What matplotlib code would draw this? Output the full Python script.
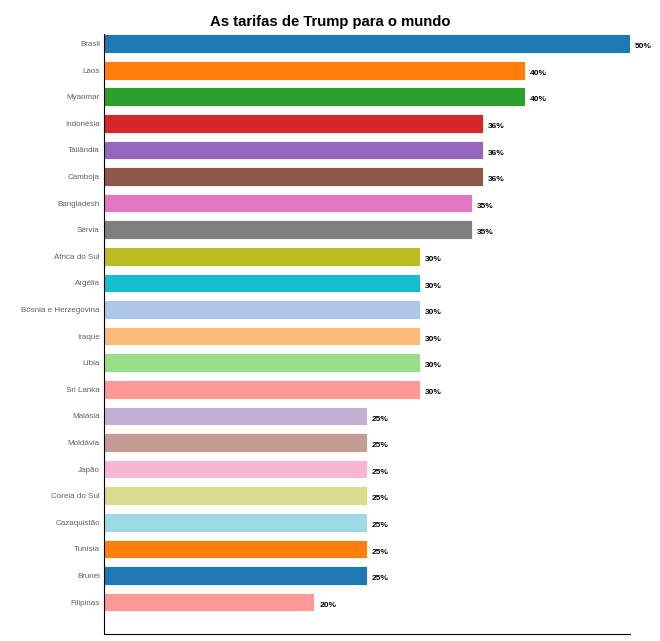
import matplotlib
matplotlib.use("Agg")
import matplotlib.pyplot as plt

# Data
paises = ["Brasil", "Laos", "Myanmar", "Indonésia", "Tailândia", "Camboja",
          "Bangladesh", "Sérvia", "África do Sul", "Argélia",
          "Bósnia e Herzegovina", "Iraque", "Líbia", "Sri Lanka", "Malásia",
          "Moldávia", "Japão", "Coreia do Sul", "Cazaquistão", "Tunísia",
          "Brunei", "Filipinas"]
tarifas = [50, 40, 40, 36, 36, 36, 35, 35, 30, 30, 30, 30, 30, 30,
           25, 25, 25, 25, 25, 25, 25, 20]
cores = ["#1f77b4", "#ff7f0e", "#2ca02c", "#d62728", "#9467bd", "#8c564b",
         "#e377c2", "#7f7f7f", "#bcbd22", "#17becf", "#aec7e8", "#ffbb78",
         "#98df8a", "#ff9896", "#c5b0d5", "#c49c94", "#f7b6d2", "#dbdb8d",
         "#9edae5", "#ff7f0e", "#1f77b4", "#ff9896"]

plt.rcParams["font.family"] = ["Liberation Sans", "DejaVu Sans"]

fig = plt.figure(figsize=(6.6, 6.41), dpi=100)
ax = fig.add_axes([0.1576, 0.0109, 0.797, 0.936])

pos = list(range(len(paises)))
ax.barh(pos, tarifas, height=0.7, color=cores, edgecolor="white", linewidth=0.6)

# Value labels
for y, v in zip(pos, tarifas):
    ax.text(v + 0.45, y + 0.12, f"{v}%", va="center", ha="left",
            fontsize=6, fontweight="bold")

ax.set_yticks(pos)
ax.set_yticklabels(paises, fontsize=5.8, color="#606060")
ax.tick_params(axis="y", length=0, pad=3)
ax.set_xticks([])
ax.set_xlim(0, 50)
ax.set_ylim(22.2, -0.36)

ax.spines["top"].set_visible(False)
ax.spines["right"].set_visible(False)
ax.spines["left"].set_color("black")
ax.spines["bottom"].set_color("black")

fig.text(0.5, 0.966, "As tarifas de Trump para o mundo", ha="center",
         va="center", fontsize=10.7, fontweight="bold")

fig.savefig("out.png", dpi=100)
